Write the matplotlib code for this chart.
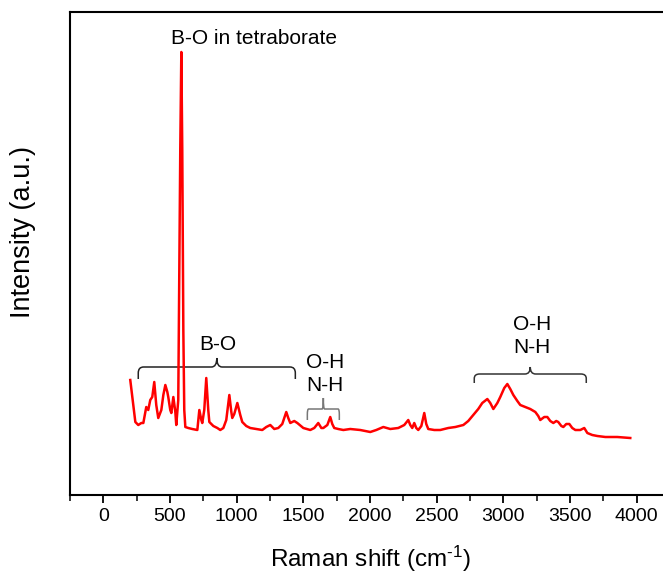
import matplotlib
matplotlib.use("Agg")
import matplotlib.pyplot as plt
from matplotlib.path import Path
from matplotlib.patches import PathPatch
from matplotlib.ticker import MultipleLocator, NullLocator

plt.rcParams['font.family'] = ['Liberation Sans', 'DejaVu Sans']
plt.rcParams['mathtext.default'] = 'regular'

# Raman spectrum (shift in cm-1, intensity in a.u.)
shift = [202, 225, 240, 262, 285, 300, 315, 322, 337, 352, 367, 382, 397, 412,
         435, 450, 465, 480, 487, 502, 510, 525, 540, 547, 562, 577, 585, 592,
         600, 607, 615, 637, 667, 705, 720, 735, 742, 757, 772, 787, 795, 825,
         855, 877, 900, 922, 945, 960, 967, 982, 1005, 1027, 1042, 1072, 1102,
         1147, 1192, 1222, 1252, 1282, 1312, 1342, 1372, 1387, 1402, 1432, 1455,
         1500, 1552, 1582, 1612, 1635, 1650, 1680, 1702, 1717, 1732, 1762, 1800,
         1852, 1927, 2002, 2047, 2100, 2152, 2212, 2257, 2287, 2302, 2317, 2332,
         2347, 2362, 2385, 2407, 2422, 2437, 2482, 2527, 2587, 2640, 2700, 2737,
         2775, 2812, 2842, 2880, 2902, 2925, 2955, 2977, 3007, 3030, 3052, 3075,
         3105, 3127, 3165, 3202, 3240, 3262, 3277, 3307, 3330, 3352, 3375, 3397,
         3412, 3435, 3450, 3472, 3495, 3517, 3540, 3577, 3607, 3630, 3667, 3705,
         3765, 3855, 3952]
intensity = [115, 90, 73, 70, 72, 72, 83, 88, 85, 95, 98, 113, 90, 77,
             85, 100, 110, 103, 98, 85, 82, 98, 83, 70, 95, 345, 443, 345,
             165, 85, 68, 67, 66, 65, 85, 75, 72, 85, 117, 85, 73, 69,
             67, 65, 67, 75, 100, 83, 77, 81, 92, 80, 73, 69, 67,
             66, 65, 68, 70, 66, 67, 71, 83, 77, 72, 74, 72,
             67, 65, 67, 72, 67, 67, 70, 78, 71, 67, 66, 65,
             66, 65, 63, 65, 68, 66, 67, 70, 75, 70, 67, 72,
             67, 65, 69, 82, 71, 66, 65, 65, 67, 68, 70, 74,
             80, 86, 92, 96, 92, 86, 92, 98, 107, 111, 106, 100,
             94, 90, 88, 86, 83, 79, 75, 78, 78, 74, 72, 74,
             73, 69, 68, 71, 71, 67, 65, 65, 67, 62, 60, 59,
             58, 58, 57]

# band assignments: (start, end, label)
bands = [(262, 1440, "B-O"), (1530, 1770, "O-H\nN-H"), (2782, 3622, "O-H\nN-H")]


def brace(ax, x0, x1, yb, yl, yt, color):
    xm = (x0 + x1) / 2
    dx = (x1 - x0) * 0.04 if x1 - x0 < 500 else 40
    dy = (yl - yb) * 0.5
    verts = [(x0, yb), (x0, yl - dy), (x0, yl), (x0 + dx, yl),
             (xm - dx, yl), (xm, yl), (xm, yt),
             (xm, yl), (xm + dx, yl),
             (x1 - dx, yl), (x1, yl), (x1, yl - dy), (x1, yb)]
    codes = [Path.MOVETO, Path.LINETO, Path.CURVE3, Path.CURVE3,
             Path.LINETO, Path.CURVE3, Path.CURVE3,
             Path.CURVE3, Path.CURVE3,
             Path.LINETO, Path.CURVE3, Path.CURVE3, Path.LINETO]
    ax.add_patch(PathPatch(Path(verts, codes), fill=False, color=color, lw=1.1))


fig = plt.figure(figsize=(6.63, 5.75), dpi=100)
ax = fig.add_axes([70 / 663, 80 / 575, 600 / 663, 483 / 575])

ax.plot(shift, intensity, color='red', lw=1.8)

ax.set_xlim(-250, 4250)
ax.set_ylim(0, 483)
ax.xaxis.set_major_locator(MultipleLocator(500))
ax.xaxis.set_minor_locator(MultipleLocator(250))
ax.yaxis.set_major_locator(NullLocator())
ax.tick_params(axis='x', which='major', direction='out', length=6, width=1.3, labelsize=14)
ax.tick_params(axis='x', which='minor', direction='out', length=4, width=1.1)
for s in ax.spines.values():
    s.set_linewidth(1.5)

ax.set_xlabel('Raman shift (cm$^{\u2010 1}$)', fontsize=17.5)
ax.set_ylabel('Intensity (a.u.)', fontsize=19.5)
ax.xaxis.set_label_coords(0.5, -0.1)
ax.yaxis.set_label_coords(-0.057, 0.545)

brace(ax, 262, 1440, 116, 128, 137, '#222222')
brace(ax, 1530, 1770, 75, 86, 97, '#777777')
brace(ax, 2782, 3622, 112, 121, 128, '#333333')
ax.text(855, 151, "B-O", ha='center', va='center', fontsize=15)
ax.text(1665, 121, "O-H\nN-H", ha='center', va='center', fontsize=15, linespacing=1.25)
ax.text(3217, 159, "O-H\nN-H", ha='center', va='center', fontsize=15, linespacing=1.25)
ax.text(1132, 457, "B-O in tetraborate", ha='center', va='center', fontsize=15)

fig.savefig('out.png', dpi=100)
